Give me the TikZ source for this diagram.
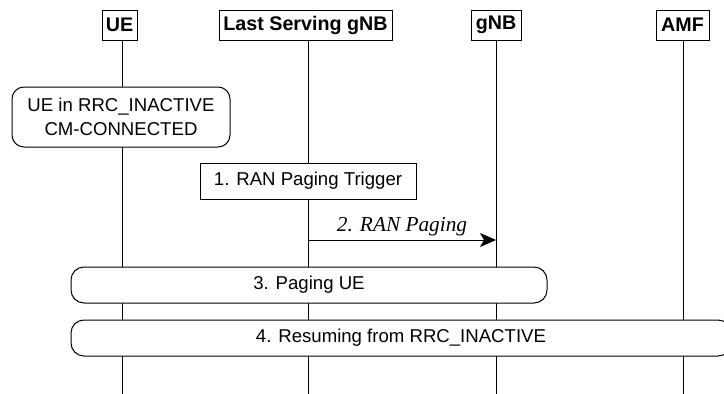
\documentclass[tikz,border=0pt]{standalone}
\usepackage{fontspec}
\setmainfont{Liberation Sans}
\newfontfamily\timesfont{Liberation Serif}
\usetikzlibrary{arrows.meta}
\tikzset{
  base/.style={line width=1pt},
  entity/.style={base, draw, inner sep=0pt, minimum height=30pt, font=\fontsize{19.7}{22}\selectfont\bfseries},
  lifeline/.style={base},
  statebox/.style={base, draw, rounded corners=12pt, inner sep=0pt, align=center, font=\fontsize{18.6}{24}\selectfont},
  actbox/.style={base, draw, inner sep=0pt, font=\fontsize{18.6}{22}\selectfont},
  procbox/.style={base, draw, rounded corners=13pt, inner sep=0pt, minimum height=36pt, font=\fontsize{18.6}{22}\selectfont},
  msg/.style={base, -{Stealth[length=16pt,width=14pt,inset=4pt]}},
  msglabel/.style={font=\fontsize{21.3}{24}\timesfont\itshape, inner sep=0pt, anchor=base}
}
\begin{document}
\begin{tikzpicture}[x=1pt,y=-1pt]
\clip (0,0) rectangle (724,394);
\fill[white] (0,0) rectangle (724,394);
% entities
\node[entity, minimum width=35pt] (ue) at (119.5,25) {UE};
\node[entity, minimum width=173pt] (ls) at (305.5,25) {Last Serving gNB};
\node[entity, minimum width=50pt] (gnb) at (496,25) {gNB};
\node[entity, minimum width=53pt] (amf) at (682.5,25) {AMF};
% lifeline coordinates
\coordinate (uet) at (122,40);   \coordinate (ueb) at (122,394);
\coordinate (lst) at (308,40);   \coordinate (lsb) at (308,394);
\coordinate (gnbt) at (496,40);  \coordinate (gnbb) at (496,394);
\coordinate (amft) at (683,40);  \coordinate (amfb) at (683,394);
\draw[lifeline] (uet) -- (ueb);
\draw[lifeline] (lst) -- (lsb);
\draw[lifeline] (gnbt) -- (gnbb);
\draw[lifeline] (amft) -- (amfb);
% state box
\node[statebox, fill=white, minimum width=218pt, minimum height=60pt] (state) at (121,117) {UE in RRC\_INACTIVE\\CM-CONNECTED};
% trigger
\node[actbox, fill=white, minimum width=216pt, minimum height=36pt] (trig) at (308,181) {1. RAN Paging Trigger};
% message
\coordinate (m1) at (308,240);
\coordinate (m2) at (496,240);
\draw[msg] (m1) -- (m2);
\node[msglabel] (mlab) at (402,231.5) {2. RAN Paging};
% procedures
\node[procbox, fill=white, minimum width=476pt] (page) at (309,285) {3. Paging UE};
\node[procbox, fill=white, minimum width=660pt] (resume) at (401,338) {4. Resuming from RRC\_INACTIVE};
\end{tikzpicture}
\end{document}
